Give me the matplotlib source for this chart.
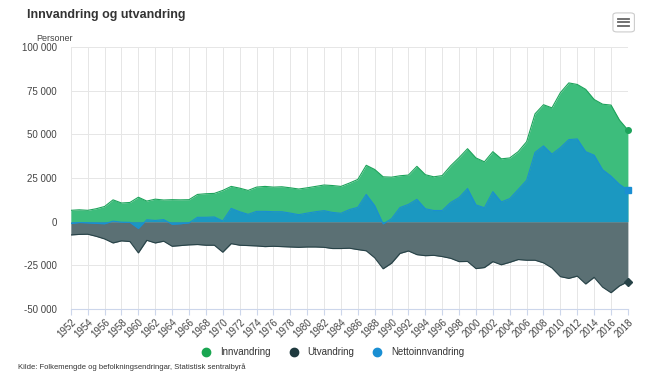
import matplotlib
matplotlib.use('Agg')
import matplotlib.pyplot as plt
from matplotlib.patches import FancyBboxPatch
from matplotlib.lines import Line2D
from matplotlib.ticker import FuncFormatter

plt.rcParams['font.family'] = ['Liberation Sans', 'DejaVu Sans']

years = list(range(1952, 2019))
innvandring = [6500, 6800, 6500, 7400, 8700, 12500, 10700, 11000, 14000, 11800,
               12900, 12400, 12600, 12500, 12600, 15600, 16000, 16200, 17900, 20200,
               19200, 17900, 19800, 20200, 19800, 20000, 19400, 18700, 19400, 20200,
               21000, 20700, 20200, 22100, 24200, 32300, 29900, 25700, 25500, 26300,
               26700, 31700, 26900, 25700, 26400, 32000, 36700, 41800, 36500, 34300,
               40100, 36000, 36500, 40100, 45800, 61800, 67000, 65200, 73900, 79500,
               78600, 75800, 70000, 67300, 66800, 58200, 52500]
utvandring = [-7600, -7300, -7200, -8400, -9900, -12200, -11000, -11400, -17900, -10700,
              -12200, -11200, -14100, -13700, -13300, -13100, -13500, -13500, -17500, -12600,
              -13500, -13700, -13900, -14300, -14100, -14300, -14500, -14700, -14500, -14500,
              -14700, -15400, -15400, -15200, -16000, -16700, -20700, -27000, -23800, -18200,
              -16800, -18900, -19500, -19300, -20000, -21000, -22900, -22800, -26900, -26300,
              -22900, -24700, -23300, -21700, -22100, -22100, -23600, -26500, -31500, -32500,
              -31200, -35700, -31900, -37500, -40700, -36800, -34400]
netto = [-1100, -500, -700, -1000, -1200, 300, -300, -400, -3900, 1100,
         700, 1200, -1500, -1200, -700, 2500, 2500, 2700, 400, 7600,
         5700, 4200, 5900, 5900, 5700, 5700, 4900, 4000, 4900, 5700,
         6300, 5300, 4800, 6900, 8200, 15600, 9200, -1300, 1700, 8100,
         9900, 12800, 7400, 6400, 6400, 11000, 13800, 19000, 9600, 8000,
         17200, 11300, 13200, 18400, 23700, 39700, 43400, 38700, 42400, 47000,
         47400, 40100, 38100, 29800, 26100, 21400, 18100]

series = ['Innvandring', 'Utvandring', 'Nettoinnvandring']
fills = ['#3dbd7c', '#5b7074', '#1b98c1']
lines = ['#1da35b', '#274247', '#1a8fd3']
markers = ['o', 'D', 's']

fig = plt.figure(figsize=(6.5, 3.8), dpi=100)
ax = fig.add_axes([0.109, 0.187, 0.857, 0.689])

for i, vals in enumerate([innvandring, utvandring, netto]):
    ax.fill_between(years, 0, vals, color=fills[i], lw=0, zorder=2 + i)
    ax.plot(years, vals, color=lines[i], lw=0.8, zorder=2.5 + i)
    ax.plot(years[-1], vals[-1], marker=markers[i], color=lines[i], ms=4, zorder=5, clip_on=False)

ax.set_xlim(1952, 2018)
ax.set_ylim(-50000, 100000)
ax.set_yticks(range(-50000, 100001, 25000))
ax.yaxis.set_major_formatter(FuncFormatter(lambda v, p: f'{int(v):,}'.replace(',', ' ')))
ax.set_xticks(range(1952, 2019, 2))
ax.set_xticklabels([str(y) for y in range(1952, 2019, 2)], rotation=45, ha='right',
                   rotation_mode='anchor', fontsize=7, color='#444444')
ax.tick_params(axis='y', labelsize=7, length=0, pad=10, labelcolor='#444444')
ax.tick_params(axis='x', length=4, color='#ccd6eb', pad=2)
ax.grid(True, color='#e6e6e6', lw=0.7, zorder=0)
for s in ['top', 'right', 'left']:
    ax.spines[s].set_visible(False)
ax.spines['bottom'].set_color('#ccd6eb')

fig.text(0.042, 0.96, 'Innvandring og utvandring', fontsize=9, fontweight='bold',
         color='#333333', va='center')
fig.text(0.056, 0.898, 'Personer', fontsize=6.5, color='#444444', va='center')
fig.text(0.028, 0.034, 'Kilde: Folkemengde og befolkningsendringar, Statistisk sentralbyrå',
         fontsize=5.5, color='#333333', va='center')

handles = [Line2D([], [], marker='o', ls='', color=c, ms=6) for c in ['#1aa651', '#1f3a3f', '#1a8fd3']]
fig.legend(handles, series, loc='center', bbox_to_anchor=(0.508, 0.073), ncol=3, frameon=False,
           fontsize=7, handletextpad=0.4, columnspacing=1.4, labelcolor='#333333')

# menu button
btn = FancyBboxPatch((0.943, 0.916), 0.033, 0.05, boxstyle='round,pad=0,rounding_size=0.006',
                     transform=fig.transFigure, fc='white', ec='#cccccc', lw=0.8)
fig.patches.append(btn)
for yy in [0.932, 0.941, 0.950]:
    fig.add_artist(Line2D([0.951, 0.968], [yy, yy], color='#666666', lw=1.3, transform=fig.transFigure))

fig.savefig('out.png', dpi=100)
